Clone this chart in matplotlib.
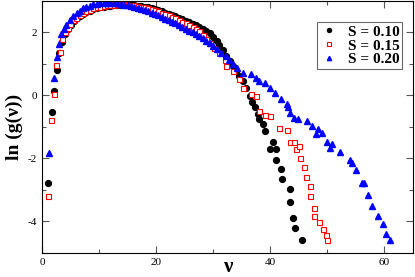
import matplotlib
matplotlib.use("Agg")
import matplotlib.pyplot as plt
from matplotlib.ticker import MultipleLocator

# S = 0.10 (black circles)
x_s10 = [1.1, 1.7, 2.06, 2.57, 2.97, 3.6, 4.1, 4.6, 5.1, 5.6, 6.1, 6.6, 7.2, 7.8, 8.4,
         9.0, 9.6, 10.2, 10.8, 11.4, 12.0, 12.6, 13.2, 13.8, 14.4, 15.0, 15.6, 16.2,
         16.8, 17.4, 18.0, 18.6, 19.2, 19.8, 20.4, 21.0, 21.6, 22.2, 22.8, 23.4, 24.0,
         24.6, 25.2, 25.8, 26.4, 27.0, 27.6, 28.2, 28.8, 29.4, 30.0, 30.6, 31.1, 31.7,
         32.3, 32.9, 33.4, 34.0, 34.6, 35.2, 35.8, 36.4, 36.8, 37.4, 37.8, 38.1, 38.7,
         39.0, 39.9, 40.4, 41.0, 41.0, 41.8, 42.0, 43.4, 43.5, 44.0, 44.3, 45.6]
y_s10 = [-2.78, -0.52, 0.14, 0.79, 1.34, 1.69, 1.93, 2.10, 2.24, 2.35, 2.44, 2.50, 2.57,
         2.63, 2.68, 2.72, 2.75, 2.78, 2.80, 2.82, 2.84, 2.85, 2.86, 2.86, 2.87, 2.87,
         2.86, 2.85, 2.84, 2.82, 2.80, 2.78, 2.75, 2.72, 2.69, 2.66, 2.62, 2.58, 2.54,
         2.50, 2.46, 2.41, 2.36, 2.32, 2.27, 2.22, 2.17, 2.11, 2.04, 1.97, 1.86, 1.73,
         1.60, 1.43, 1.25, 1.08, 0.92, 0.77, 0.61, 0.45, 0.22, -0.02, -0.22, -0.36,
         -0.60, -0.76, -0.91, -1.15, -1.70, -1.49, -1.70, -2.07, -2.35, -2.65, -2.98,
         -3.39, -3.88, -4.20, -4.59]

# S = 0.15 (red open squares)
x_s15 = [1.1, 1.57, 2.04, 2.45, 3.15, 3.5, 4.0, 4.5, 5.0, 5.5, 6.0, 6.6, 7.2, 7.8, 8.4,
         9.0, 9.6, 10.2, 10.8, 11.4, 12.0, 12.6, 13.2, 13.8, 14.4, 15.0, 15.6, 16.2,
         16.8, 17.4, 18.0, 18.6, 19.2, 19.8, 20.4, 21.0, 21.6, 22.2, 22.8, 23.4, 24.0,
         24.6, 25.2, 25.8, 26.4, 27.0, 27.6, 28.2, 28.8, 29.4, 30.2, 31.1, 32.0, 32.3,
         33.4, 34.6, 35.2, 36.7, 37.5, 38.0, 39.1, 40.0, 41.5, 43.0, 43.5, 44.1, 44.5,
         45.0, 45.2, 46.0, 46.3, 47.0, 47.0, 47.6, 47.6, 48.5, 49.2, 49.8, 49.9]
y_s15 = [-3.20, -0.78, 0.04, 0.97, 1.36, 1.79, 2.00, 2.14, 2.27, 2.37, 2.46, 2.53, 2.60,
         2.66, 2.71, 2.75, 2.78, 2.81, 2.83, 2.85, 2.86, 2.87, 2.88, 2.88, 2.88, 2.87,
         2.86, 2.85, 2.83, 2.81, 2.79, 2.76, 2.73, 2.70, 2.66, 2.62, 2.58, 2.54, 2.49,
         2.44, 2.39, 2.33, 2.28, 2.22, 2.16, 2.10, 2.03, 1.90, 1.78, 1.66, 1.50, 1.34,
         1.13, 0.92, 0.77, 0.50, 0.24, 0.03, -0.02, -0.49, -0.63, -0.65, -1.03, -1.09,
         -1.49, -1.47, -1.70, -1.60, -1.98, -2.28, -2.60, -2.88, -3.20, -3.59, -3.82,
         -4.01, -4.23, -4.43, -4.59]

# S = 0.20 (blue triangles)
x_s20 = [1.17, 2.1, 2.57, 3.03, 3.4, 3.9, 4.3, 4.9, 5.5, 6.1, 6.6, 7.2, 7.8, 8.4, 9.0,
         9.6, 10.2, 10.8, 11.4, 12.0, 12.6, 13.2, 13.8, 14.4, 15.0, 15.6, 16.2, 16.8,
         17.4, 18.0, 18.6, 19.2, 19.8, 20.4, 21.0, 21.6, 22.2, 22.8, 23.4, 24.0, 24.6,
         25.2, 25.8, 26.4, 27.0, 27.6, 28.2, 28.8, 29.4, 29.9, 30.6, 31.4, 32.3, 32.8,
         33.4, 34.2, 35.2, 36.7, 37.5, 38.1, 39.0, 39.9, 40.9, 41.9, 42.9, 43.1, 43.5,
         44.2, 44.9, 46.4, 47.4, 48.0, 48.3, 49.0, 49.9, 50.5, 50.9, 52.3, 54.0, 54.4,
         55.0, 56.0, 56.5, 57.1, 57.9, 58.8, 59.7, 60.3, 61.0]
y_s20 = [-1.82, 0.54, 1.21, 1.61, 1.94, 2.10, 2.24, 2.38, 2.50, 2.60, 2.68, 2.75, 2.80,
         2.84, 2.88, 2.90, 2.92, 2.93, 2.93, 2.93, 2.92, 2.91, 2.89, 2.87, 2.85, 2.82,
         2.79, 2.76, 2.73, 2.69, 2.66, 2.62, 2.57, 2.53, 2.48, 2.43, 2.38, 2.33, 2.28,
         2.23, 2.17, 2.11, 2.05, 1.99, 1.93, 1.87, 1.80, 1.72, 1.64, 1.55, 1.45, 1.35,
         1.24, 1.10, 0.98, 0.85, 0.71, 0.66, 0.56, 0.45, 0.40, 0.24, 0.08, -0.13, -0.28,
         -0.36, -0.58, -0.73, -0.76, -0.82, -0.99, -1.23, -1.07, -1.20, -1.49, -1.68,
         -1.56, -1.81, -2.07, -2.14, -2.36, -2.77, -2.77, -3.17, -3.52, -3.82, -4.09,
         -4.40, -4.59]

plt.rcParams['font.family'] = 'Liberation Serif'
plt.rcParams['axes.unicode_minus'] = False

fig = plt.figure(figsize=(4.15, 2.77), dpi=100)
ax = fig.add_axes([0.101, 0.087, 0.894, 0.911])

ax.plot(x_s10, y_s10, 'o', color='black', markersize=4.2, linestyle='none',
        label='S = 0.10')
ax.plot(x_s15, y_s15, 's', markerfacecolor='white', markeredgecolor='red',
        markeredgewidth=0.8, markersize=3.6, linestyle='none', label='S = 0.15')
ax.plot(x_s20, y_s20, '^', color='blue', markersize=4.4, linestyle='none',
        label='S = 0.20')

ax.set_xlim(0, 65)
ax.set_ylim(-5, 3)
ax.xaxis.set_major_locator(MultipleLocator(20))
ax.xaxis.set_minor_locator(MultipleLocator(10))
ax.yaxis.set_major_locator(MultipleLocator(2))
ax.yaxis.set_minor_locator(MultipleLocator(1))
ax.tick_params(which='both', direction='in', top=True, right=True,
               labelsize=8, color='#555555')
ax.tick_params(which='major', length=5, width=0.8)
ax.tick_params(which='minor', length=3, width=0.8)

ax.set_xlabel('ν', fontsize=15, fontweight='bold')
ax.xaxis.set_label_coords(0.5, -0.015)
ax.set_ylabel('ln (g(ν))', fontsize=14, fontweight='bold')
ax.yaxis.set_label_coords(-0.05, 0.5)

leg = ax.legend(loc='upper right', bbox_to_anchor=(0.992, 0.945), fancybox=False,
                edgecolor='#444444', prop={'weight': 'bold', 'size': 11},
                handlelength=1.2, handletextpad=0.6, borderpad=0.2,
                labelspacing=0.0, markerscale=0.7)
leg.get_frame().set_linewidth(0.8)

fig.savefig('out.png', dpi=100)
